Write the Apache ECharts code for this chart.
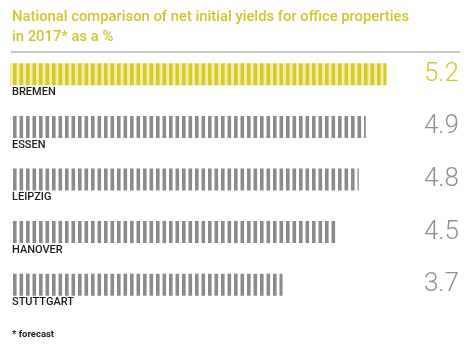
<!DOCTYPE html>
<html>
<head>
<meta charset="utf-8">
<script src="https://cdn.jsdelivr.net/npm/echarts@6/dist/echarts.min.js"></script>
<style>
  html, body { margin: 0; padding: 0; background: #fff; }
  #chart { width: 473px; height: 347px; }
</style>
</head>
<body>
<div id="chart"></div>
<script>
// Net initial yields for office properties, 2017 (forecast), in %
const cities = ['BREMEN', 'ESSEN', 'LEIPZIG', 'HANOVER', 'STUTTGART'];
const yields = [5.2, 4.9, 4.8, 4.5, 3.7];
const highlightCity = 'BREMEN';

const YELLOW = '#d6c92c';
const YELLOW_LIGHT = '#f3eda6';
const GREY = '#8b8b8b';

// Vertical-stripe fill for the bars
function stripes(fg, bg) {
  const c = document.createElement('canvas');
  c.width = 13; c.height = 4;
  const g = c.getContext('2d');
  g.fillStyle = bg; g.fillRect(0, 0, 13, 4);
  g.fillStyle = fg;
  g.fillRect(0, 0, 3.6, 4);
  g.fillRect(6.5, 0, 3.6, 4);
  return { image: c, repeat: 'repeat' };
}
const yellowFill = stripes(YELLOW, YELLOW_LIGHT);
const greyFill = stripes(GREY, '#ffffff');

const chart = echarts.init(document.getElementById('chart'), null, { renderer: 'canvas' });

const axisStart = -0.23;

chart.setOption({
  animation: false,
  backgroundColor: '#ffffff',
  title: {
    text: 'National comparison of net initial yields for office properties\nin 2017* as a %',
    left: 12, top: 7, padding: 0,
    textStyle: {
      color: '#d2c52e', fontFamily: 'Roboto', fontWeight: 500,
      fontSize: 14.8, lineHeight: 20
    }
  },
  graphic: [
    { type: 'line', shape: { x1: 11, y1: 52, x2: 460, y2: 52 },
      style: { stroke: '#8f8f8f', lineWidth: 1 } },
    { type: 'text', left: 12, top: 330,
      style: { text: '* forecast', fill: '#222', font: 'bold 9.5px Roboto' } }
  ],
  grid: { left: 10, right: 31, top: 48, height: 263, containLabel: false },
  xAxis: {
    type: 'value', min: axisStart, max: 6, startValue: axisStart,
    show: false
  },
  yAxis: [
    {
      type: 'category', data: cities, inverse: true,
      show: false
    },
    {
      type: 'category', data: yields.map(v => v.toFixed(1)), inverse: true,
      position: 'right',
      axisLine: { show: false }, axisTick: { show: false },
      axisLabel: {
        align: 'right', margin: 17,
        fontFamily: 'Roboto', fontWeight: 300, fontSize: 26,
        color: (val, i) => cities[i] === highlightCity ? YELLOW : '#909090'
      }
    }
  ],
  series: [{
    type: 'bar',
    yAxisIndex: 0,
    barWidth: 22,
    data: yields.map((v, i) => ({
      value: v,
      itemStyle: { color: cities[i] === highlightCity ? yellowFill : greyFill }
    })),
    label: {
      show: true,
      position: [2, 29],
      align: 'left', verticalAlign: 'middle',
      formatter: p => cities[p.dataIndex],
      color: '#1c1c1c', fontFamily: 'Roboto', fontWeight: 500, fontSize: 11
    }
  }]
});
</script>
</body>
</html>
